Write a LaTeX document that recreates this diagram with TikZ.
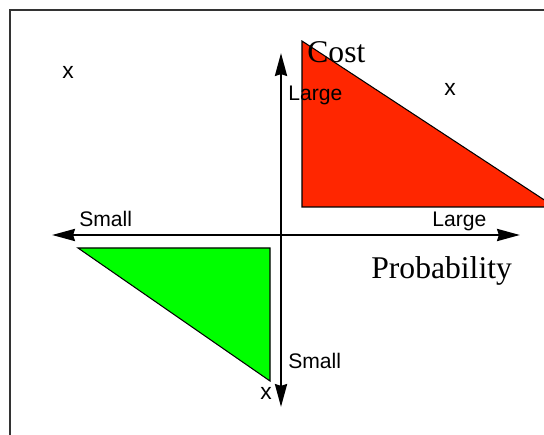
\documentclass[tikz,border=0pt]{standalone}
\usepackage{xcolor}
\usepackage{fontspec}
\setmainfont{Liberation Serif}
\setsansfont{Liberation Sans}
\usetikzlibrary{arrows.meta}

\definecolor{riskred}{RGB}{255,38,0}
\definecolor{riskgreen}{RGB}{0,255,0}

\begin{document}
\begin{tikzpicture}[
	x=0.02cm,
	y=-0.02cm,
	>={Stealth[length=13pt,width=6.8pt,inset=1pt]},
	axis/.style={line width=1.6pt},
	zone/.style={draw=black, line width=0.6pt},
	tag/.style={
		font=\sffamily\fontsize{12}{14}\selectfont,
		inner sep=0pt
	},
	title/.style={
		font=\fontsize{18}{21}\selectfont,
		inner sep=0pt
	},
	cross/.style={
		font=\sffamily\fontsize{13}{15}\selectfont,
		inner sep=0pt
	}
	]
	
	\useasboundingbox (0,0) rectangle (544,435);
	\clip (0,0) rectangle (544,435);
	\draw[line width=0.6pt, draw=black!80] (10,10) rectangle (600,500);
	
	% regions
	\fill[riskred] (302,41) -- (302,207) -- (555,207) -- cycle;
	\draw[zone] (302,41) -- (302,207) -- (555,207) -- cycle;
	\fill[riskgreen] (78,248) -- (270,248) -- (270,381) -- cycle;
	\draw[zone] (78,248) -- (270,248) -- (270,381) -- cycle;
	
	% axes
	\coordinate (west) at (52,235);
	\coordinate (east) at (520,235);
	\coordinate (north) at (281,53);
	\coordinate (south) at (281,407);
	\draw[axis,<->] (west) -- (east);
	\draw[axis,<->] (south) -- (north);
	
	\node[title, anchor=base west] (cost) at (307,63) {Cost};
	\node[title, anchor=base west] (prob) at (371,279) {Probability};
	\node[tag, anchor=base west] (costhigh) at (288,101) {Large};
	\node[tag, anchor=base west] (costlow) at (288,368) {Small};
	\node[tag, anchor=base west] (problow) at (79,227) {Small};
	\node[tag, anchor=base west] (probhigh) at (432,227) {Large};
	
	\node[cross] (markA) at (68,72) {x};
	\node[cross] (markB) at (450,89) {x};
	\node[cross] (markC) at (266,393) {x};
\end{tikzpicture}
\end{document}
